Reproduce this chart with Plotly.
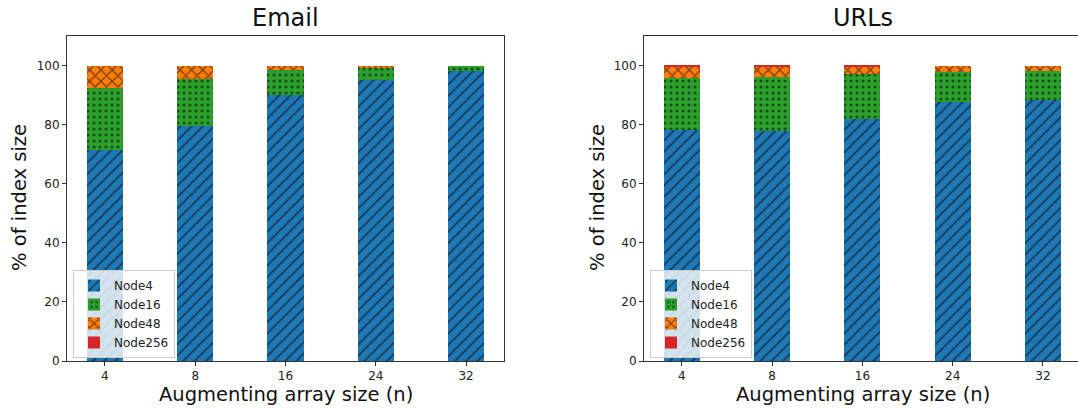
import plotly.graph_objects as go

# Augmenting array sizes (categories on the x axis)
sizes = ["4", "8", "16", "24", "32"]

# Share of index size (%) held by each node type, Email dataset
email_node4 = [71.3, 79.7, 90.2, 95.2, 98.1]
email_node16 = [21.1, 15.8, 8.4, 4.3, 1.9]
email_node48 = [7.6, 4.5, 1.4, 0.5, 0.0]
email_node256 = [0.0, 0.0, 0.0, 0.0, 0.0]

# Share of index size (%) held by each node type, URLs dataset
urls_node4 = [78.3, 77.8, 81.8, 87.6, 88.4]
urls_node16 = [17.4, 18.2, 15.4, 10.1, 9.9]
urls_node48 = [4.0, 3.7, 2.5, 2.3, 1.7]
urls_node256 = [0.3, 0.3, 0.3, 0.0, 0.0]

series_names = ["Node4", "Node16", "Node48", "Node256"]
colors = ["#1f77b4", "#2ca02c", "#ff7f0e", "#d62728"]
patterns = [
    dict(shape="/", fgcolor="black", size=8, solidity=0.22),
    dict(shape=".", fgcolor="black", size=6, solidity=0.22),
    dict(shape="x", fgcolor="black", size=8, solidity=0.32),
    dict(shape=""),
]

W, H = 1078, 409
fig = go.Figure()

panels = [
    ("x", "y", "legend", [email_node4, email_node16, email_node48, email_node256]),
    ("x2", "y2", "legend2", [urls_node4, urls_node16, urls_node48, urls_node256]),
]
for xa, ya, leg, data in panels:
    for name, vals, col, pat in zip(series_names, data, colors, patterns):
        fig.add_trace(go.Bar(
            x=sizes, y=vals, name=name, width=0.4,
            marker=dict(color=col, line=dict(width=0), pattern=pat),
            xaxis=xa, yaxis=ya, legend=leg,
        ))

def px_x(p):
    return p / W

def px_y(p):
    return 1 - p / H

axis_common = dict(
    showline=True, linecolor="#333", linewidth=1,
    ticks="outside", ticklen=4, tickcolor="#333",
    tickfont=dict(family="DejaVu Sans", size=12, color="#222"),
    showgrid=False, zeroline=False, automargin=False,
)

ydom = [px_y(361), px_y(36)]
legend_style = dict(
    xanchor="left", yanchor="bottom", traceorder="normal",
    bgcolor="rgba(255,255,255,0.8)", bordercolor="#cccccc", borderwidth=1,
    font=dict(family="DejaVu Sans", size=12, color="#222"),
)
fig.update_layout(
    width=W, height=H, autosize=False,
    margin=dict(l=0, r=0, t=0, b=0, pad=0, autoexpand=False),
    paper_bgcolor="white", plot_bgcolor="white",
    barmode="stack",
    font=dict(family="DejaVu Sans", color="#222"),
    xaxis=dict(domain=[px_x(67), px_x(504)], type="category",
               range=[-0.42, 4.42], mirror=True, anchor="y", **axis_common),
    yaxis=dict(domain=ydom, range=[0, 110], tickvals=[0, 20, 40, 60, 80, 100],
               mirror=True, anchor="x", **axis_common),
    xaxis2=dict(domain=[px_x(644), 1.0], type="category",
                range=[-0.42, 4.389], mirror=True, anchor="y2", **axis_common),
    yaxis2=dict(domain=ydom, range=[0, 110], tickvals=[0, 20, 40, 60, 80, 100],
                mirror=False, anchor="x2", **axis_common),
    legend=dict(x=px_x(73), y=px_y(358), **legend_style),
    legend2=dict(x=px_x(650), y=px_y(358), **legend_style),
    showlegend=True,
)

title_font = dict(family="DejaVu Sans", size=24, color="#111")
label_font = dict(family="DejaVu Sans", size=19.5, color="#111")
annotations = [
    dict(text="Email", x=px_x(285.5), y=px_y(18), font=title_font),
    dict(text="URLs", x=px_x(862.5), y=px_y(18), font=title_font),
    dict(text="Augmenting array size (n)", x=px_x(285.5), y=px_y(394), font=label_font),
    dict(text="Augmenting array size (n)", x=px_x(862.5), y=px_y(394), font=label_font),
    dict(text="% of index size", x=px_x(19), y=px_y(198), textangle=-90, font=label_font),
    dict(text="% of index size", x=px_x(597), y=px_y(198), textangle=-90, font=label_font),
]
for a in annotations:
    fig.add_annotation(xref="paper", yref="paper", xanchor="center", yanchor="middle",
                       showarrow=False, **a)

fig.write_html("out.html")
